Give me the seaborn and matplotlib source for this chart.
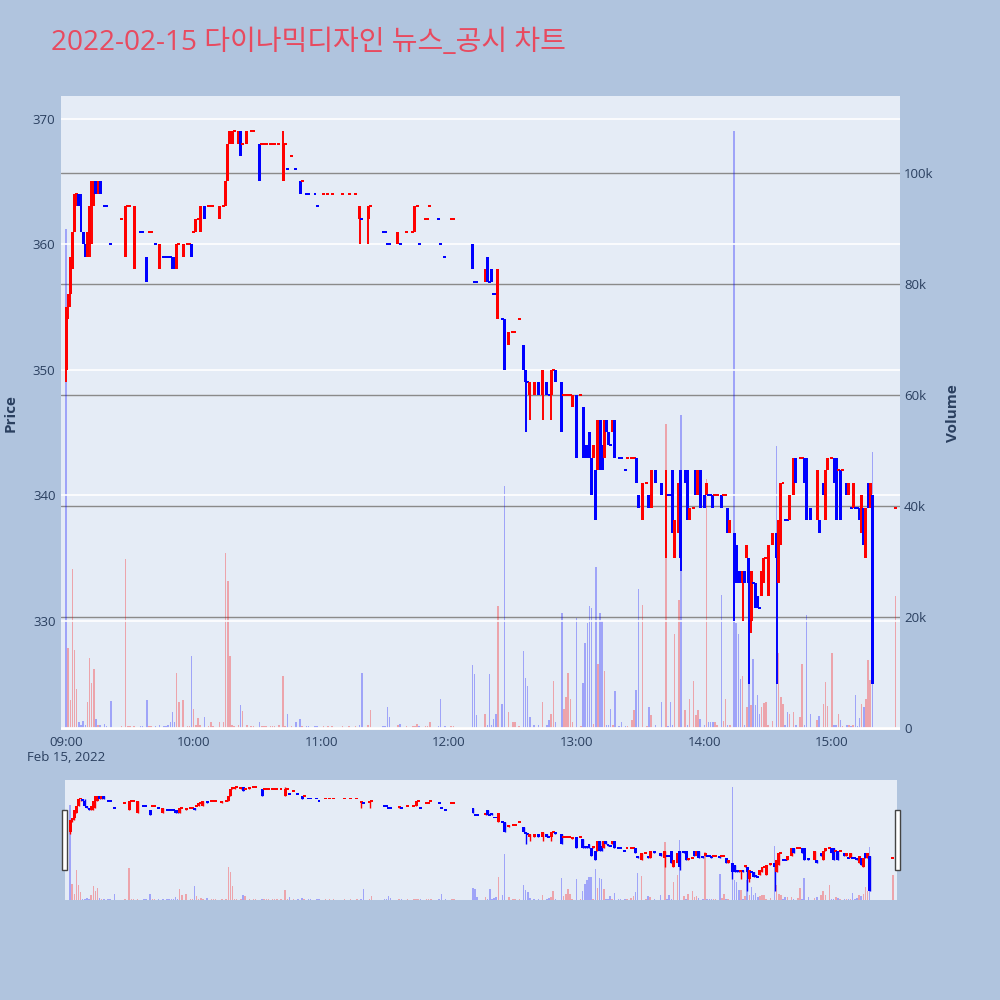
import numpy as np
import pandas as pd
import matplotlib
matplotlib.use("Agg")
import matplotlib.pyplot as plt
from matplotlib.patches import Rectangle
import seaborn as sns

# ── Chart data (1-minute candles, minutes after 09:00, volume in thousands)
TITLE = "2022-02-15 다이나믹디자인 뉴스_공시 차트"

minutes = [0, 1, 2, 3, 4, 5, 6, 7, 8, 9,
           10, 11, 12, 13, 14, 15, 16, 18, 19, 21,
           26, 28, 29, 30, 32, 35, 36, 38, 39, 40,
           42, 44, 46, 47, 48, 49, 50, 51, 52, 53,
           55, 57, 58, 59, 60, 61, 62, 63, 65, 67,
           68, 69, 72, 74, 75, 76, 77, 78, 79, 81,
           82, 83, 85, 87, 88, 91, 92, 93, 94, 96,
           97, 98, 100, 102, 103, 104, 106, 108, 110, 111,
           113, 114, 117, 118, 121, 123, 125, 130, 133, 136,
           138, 139, 142, 143, 149, 150, 151, 152, 156, 157,
           160, 163, 164, 165, 166, 169, 170, 171, 175, 176,
           178, 181, 182, 191, 192, 193, 197, 198, 199, 200,
           201, 202, 203, 205, 206, 208, 210, 211, 213, 215,
           216, 217, 218, 220, 222, 224, 226, 227, 228, 229,
           230, 233, 234, 235, 236, 237, 238, 240, 242, 243,
           244, 245, 246, 247, 248, 249, 250, 251, 252, 253,
           254, 255, 256, 257, 258, 260, 261, 263, 264, 266,
           267, 268, 269, 271, 273, 274, 275, 277, 280, 282,
           283, 284, 285, 286, 288, 289, 291, 292, 293, 295,
           296, 297, 298, 300, 301, 302, 303, 304, 305, 306,
           308, 309, 310, 311, 312, 314, 315, 316, 317, 318,
           319, 320, 321, 322, 323, 324, 325, 326, 327, 328,
           329, 330, 332, 334, 335, 336, 337, 338, 339, 340,
           342, 343, 345, 346, 347, 348, 350, 353, 354, 356,
           357, 358, 360, 361, 362, 363, 364, 365, 367, 368,
           369, 370, 371, 372, 373, 374, 375, 376, 377, 378, 379, 390]

opens = [350, 355, 356, 358, 361, 364, 364, 363, 361, 360,
         359, 360, 363, 363, 365, 364, 365, 363, 363, 360,
         362, 359, 363, 363, 358, 361, 361, 359, 361, 361,
         360, 358, 359, 359, 359, 359, 359, 359, 358, 360,
         359, 360, 360, 360, 361, 361, 362, 361, 363, 363,
         363, 363, 362, 363, 363, 365, 368, 368, 369, 368,
         369, 368, 368, 369, 369, 368, 368, 368, 368, 368,
         368, 368, 368, 365, 368, 366, 367, 366, 365, 365,
         364, 364, 364, 363, 364, 364, 364, 364, 364, 364,
         362, 362, 362, 363, 361, 361, 360, 360, 360, 360,
         361, 361, 361, 363, 360, 362, 362, 363, 362, 360,
         359, 362, 362, 360, 357, 357, 357, 359, 357, 358,
         356, 356, 354, 354, 354, 352, 353, 353, 354, 352,
         350, 349, 348, 348, 349, 348, 349, 348, 348, 350,
         350, 349, 348, 348, 348, 348, 347, 348, 348, 347,
         344, 344, 345, 343, 343, 342, 342, 346, 344, 343,
         346, 345, 344, 345, 346, 343, 343, 342, 343, 343,
         343, 343, 340, 338, 341, 340, 339, 342, 341, 339,
         340, 340, 342, 335, 337, 342, 342, 342, 338, 339,
         342, 340, 342, 340, 340, 340, 340, 340, 340, 340,
         340, 340, 340, 339, 337, 337, 336, 334, 334, 333,
         334, 335, 335, 330, 333, 333, 332, 331, 332, 333,
         335, 332, 336, 337, 333, 336, 341, 338, 338, 338,
         340, 343, 343, 343, 343, 343, 339, 338, 338, 341,
         338, 342, 343, 343, 343, 342, 342, 342, 341, 340,
         339, 339, 339, 339, 339, 337, 339, 335, 341, 339, 340, 339]

highs = [355, 356, 359, 361, 364, 364, 364, 364, 361, 360,
         361, 363, 365, 365, 365, 365, 365, 363, 363, 360,
         362, 363, 363, 363, 363, 361, 361, 359, 361, 361,
         360, 360, 359, 359, 359, 359, 359, 359, 360, 360,
         360, 360, 360, 360, 361, 362, 362, 363, 363, 363,
         363, 363, 363, 363, 365, 368, 369, 369, 369, 369,
         369, 368, 369, 369, 369, 368, 368, 368, 368, 368,
         368, 368, 368, 369, 368, 366, 367, 366, 365, 365,
         364, 364, 364, 363, 364, 364, 364, 364, 364, 364,
         363, 362, 363, 363, 361, 361, 360, 360, 361, 360,
         361, 361, 363, 363, 360, 362, 362, 363, 362, 360,
         359, 362, 362, 360, 357, 357, 358, 359, 357, 358,
         356, 356, 358, 354, 354, 353, 353, 353, 354, 352,
         350, 349, 349, 349, 349, 350, 349, 348, 350, 350,
         350, 349, 348, 348, 348, 348, 348, 348, 348, 347,
         344, 344, 345, 343, 344, 342, 346, 346, 344, 346,
         346, 345, 344, 346, 346, 343, 343, 342, 343, 343,
         343, 343, 340, 341, 341, 340, 342, 342, 341, 342,
         340, 340, 342, 338, 341, 342, 342, 342, 339, 339,
         342, 342, 342, 340, 341, 340, 340, 340, 340, 340,
         340, 340, 340, 339, 338, 337, 336, 334, 334, 334,
         334, 336, 335, 334, 333, 333, 332, 331, 334, 335,
         335, 336, 337, 337, 338, 341, 341, 338, 338, 340,
         343, 343, 343, 343, 343, 343, 339, 342, 338, 341,
         342, 343, 343, 343, 343, 342, 342, 342, 341, 341,
         339, 341, 339, 339, 339, 340, 339, 339, 341, 341, 340, 339]

lows = [349, 354, 355, 358, 361, 363, 363, 361, 360, 359,
        359, 359, 360, 363, 364, 364, 364, 363, 363, 360,
        362, 359, 363, 363, 358, 361, 361, 357, 361, 361,
        360, 358, 359, 359, 359, 359, 358, 358, 358, 360,
        359, 360, 360, 359, 361, 361, 362, 361, 362, 363,
        363, 363, 362, 363, 363, 365, 368, 368, 369, 368,
        367, 368, 368, 369, 369, 365, 368, 368, 368, 368,
        368, 368, 368, 365, 368, 366, 367, 366, 364, 365,
        364, 364, 364, 363, 364, 364, 364, 364, 364, 364,
        360, 362, 360, 363, 361, 361, 360, 360, 360, 360,
        361, 361, 361, 363, 360, 362, 362, 363, 362, 360,
        359, 362, 362, 358, 357, 357, 357, 357, 357, 357,
        356, 356, 354, 354, 350, 352, 353, 353, 354, 350,
        345, 349, 346, 348, 348, 346, 348, 348, 346, 350,
        349, 345, 348, 348, 348, 348, 347, 343, 348, 343,
        343, 343, 343, 340, 343, 338, 342, 342, 342, 343,
        345, 344, 344, 345, 343, 343, 343, 342, 343, 343,
        343, 341, 339, 338, 341, 339, 339, 341, 340, 335,
        340, 340, 337, 335, 337, 334, 341, 338, 338, 339,
        340, 340, 339, 339, 340, 340, 340, 339, 340, 340,
        339, 340, 340, 337, 337, 330, 333, 333, 333, 330,
        333, 335, 325, 329, 333, 331, 331, 331, 332, 333,
        335, 332, 336, 325, 333, 336, 341, 338, 338, 338,
        340, 341, 343, 343, 341, 338, 338, 338, 337, 340,
        338, 342, 343, 341, 338, 342, 338, 342, 340, 340,
        339, 339, 339, 339, 338, 337, 336, 335, 339, 339, 325, 339]

closes = [355, 356, 359, 361, 364, 364, 363, 361, 360, 359,
          361, 363, 365, 365, 364, 365, 364, 363, 363, 360,
          362, 363, 363, 363, 363, 361, 361, 357, 361, 361,
          360, 360, 359, 359, 359, 359, 358, 358, 360, 360,
          360, 360, 360, 359, 361, 362, 362, 363, 362, 363,
          363, 363, 363, 363, 365, 368, 369, 369, 369, 369,
          367, 368, 369, 369, 369, 365, 368, 368, 368, 368,
          368, 368, 368, 368, 368, 366, 367, 366, 364, 365,
          364, 364, 364, 363, 364, 364, 364, 364, 364, 364,
          363, 362, 363, 363, 361, 361, 360, 360, 361, 360,
          361, 361, 363, 363, 360, 362, 362, 363, 362, 360,
          359, 362, 362, 358, 357, 357, 358, 357, 357, 357,
          356, 356, 358, 354, 350, 353, 353, 353, 354, 350,
          349, 349, 349, 349, 348, 350, 348, 348, 350, 350,
          349, 345, 348, 348, 348, 348, 348, 343, 348, 343,
          343, 343, 343, 340, 344, 338, 346, 342, 342, 346,
          345, 344, 344, 346, 343, 343, 343, 342, 343, 343,
          343, 341, 339, 341, 341, 339, 342, 341, 340, 342,
          340, 340, 337, 338, 341, 335, 341, 338, 339, 339,
          340, 342, 339, 339, 341, 340, 340, 339, 340, 340,
          339, 340, 340, 337, 338, 333, 333, 333, 333, 334,
          333, 336, 333, 334, 333, 331, 331, 331, 334, 335,
          335, 336, 337, 335, 338, 341, 341, 338, 338, 340,
          343, 341, 343, 343, 341, 338, 338, 342, 337, 340,
          342, 343, 343, 341, 338, 342, 338, 342, 340, 341,
          339, 341, 339, 339, 338, 340, 336, 339, 339, 341, 325, 339]

volumes_k = [90, 14.4, 5, 28.6, 14, 7, 1, 0.5, 1.3, 0.5,
             4.7, 12.6, 8.1, 10.6, 1.6, 0.5, 0.5, 0.8, 0.3, 4.9,
             0.3, 30.4, 0.3, 0.3, 0.3, 0.3, 0.3, 5, 0.3, 0.3,
             0.3, 0.5, 0.3, 0.3, 0.5, 1, 2.8, 1, 10, 4.7,
             5, 0.3, 0.3, 13, 3.4, 0.5, 1.8, 0.5, 2, 0.3,
             1, 0.3, 1, 1, 31.5, 26.5, 13, 0.5, 0.3, 0.5,
             4.1, 3, 0.5, 0.3, 0.3, 1, 0.3, 0.3, 0.3, 0.3,
             0.3, 0.3, 0.5, 9.3, 0.3, 2.5, 0.3, 1, 1.6, 0.3,
             0.3, 0.3, 0.3, 0.3, 0.3, 0.3, 0.3, 0.3, 0.3, 0.3,
             0.5, 10, 0.5, 3.2, 0.3, 0.3, 3.8, 2, 0.6, 0.7,
             0.3, 0.3, 0.3, 0.8, 0.3, 0.3, 0.3, 1, 0.3, 5.2,
             0.3, 0.3, 0.3, 11.3, 9.7, 2.3, 2.6, 0.5, 9.7, 0.5,
             1.7, 2.6, 21.9, 4.3, 43.6, 2.9, 1, 1, 0.3, 13.9,
             9, 7.6, 2, 0.5, 0.5, 4.7, 0.5, 1.5, 2.6, 8.5,
             1, 20.8, 3.4, 5.6, 10, 5.3, 1, 19.8, 0.3, 8.2,
             15.3, 19, 21.9, 21.7, 0.8, 29, 11.5, 20.8, 19.3, 10.2,
             0.5, 0.5, 3.4, 0.5, 6.7, 0.3, 1, 0.3, 0.3, 1.5,
             3.2, 6.8, 25, 22.2, 0.3, 3.8, 2.4, 0.5, 4.7, 54.8,
             0.3, 4.7, 0.5, 17, 23, 56.4, 3.2, 0.5, 5.3, 8.5,
             2.3, 3.2, 1.7, 0.5, 44.9, 1, 1, 1, 1, 0.5,
             24, 1.3, 5.3, 0.5, 0.5, 107.6, 18.9, 17, 8.8, 9.4,
             0.5, 3.8, 19, 4.1, 12.4, 4.1, 6, 2.6, 3.8, 4.5,
             4.6, 0.5, 1.2, 50.8, 13.6, 5.6, 4.4, 0.5, 2.9, 2.6,
             2.8, 0.5, 1.9, 11.5, 0.5, 20.4, 2.6, 1.4, 2.2, 4.3,
             8.3, 4, 13.6, 0.5, 0.5, 2.6, 1.4, 0.3, 0.5, 0.5,
             0.3, 0.5, 6, 0.3, 1.8, 4.3, 3.8, 5.3, 12.3, 8.6, 49.8, 23.8]

hour_ticks = [0, 60, 120, 180, 240, 300, 360]
hour_labels = ["09:00\nFeb 15, 2022", "10:00", "11:00", "12:00", "13:00", "14:00", "15:00"]
price_ticks = [330, 340, 350, 360, 370]
vol_ticks = [0, 20000, 40000, 60000, 80000, 100000]
vol_labels = ["0", "20k", "40k", "60k", "80k", "100k"]

# ── Styling
PAGE_BG = "#B0C4DE"
PLOT_BG = "#E5ECF6"
TEXT = "#2a3f5f"
UP, DOWN = "#ff0000", "#0000ff"
X_RANGE = (-2.4, 392)
P_RANGE = (321.3, 371.8)
V_RANGE = (-360, 113900)

sns.set_theme(style="white")
plt.rcParams["font.family"] = ["Open Sans", "Noto Sans CJK KR", "DejaVu Sans"]

# ── Build frame, direction by body then by change vs previous close
df = pd.DataFrame({"minute": minutes, "open": opens, "high": highs,
                   "low": lows, "close": closes,
                   "volume": np.array(volumes_k) * 1000})
step = np.sign(df["close"] - df["close"].shift(1)).replace(0, np.nan).ffill().fillna(-1)
body = np.sign(df["close"] - df["open"])
df["up"] = np.where(body != 0, body > 0, step > 0)
df["vol_dir"] = np.where(step > 0, "up", "down")


def draw_panel(ax_v, ax_p, wick_lw, min_body):
    sns.barplot(data=df, x="minute", y="volume", hue="vol_dir",
                palette={"up": UP, "down": DOWN}, native_scale=True,
                dodge=False, width=0.7, saturation=1, alpha=0.3,
                errorbar=None, legend=False, linewidth=0, ax=ax_v)
    colors = np.where(df["up"], UP, DOWN)
    ax_p.vlines(df["minute"], df["low"], df["high"], colors=colors,
                linewidth=wick_lw, zorder=3)
    size = (df["close"] - df["open"]).abs()
    h = np.maximum(size, min_body)
    bottom = np.minimum(df["open"], df["close"]) - (h - size) / 2
    ax_p.bar(df["minute"], h, bottom=bottom, width=1.4, color=colors,
             linewidth=0, zorder=4)
    ax_v.set_xlim(*X_RANGE)
    ax_v.set_ylim(*V_RANGE)
    ax_p.set_ylim(*P_RANGE)
    ax_v.set_facecolor(PLOT_BG)
    ax_p.patch.set_visible(False)
    for a in (ax_v, ax_p):
        for s in a.spines.values():
            s.set_visible(False)
        a.set_xlabel("")
        a.set_ylabel("")


fig = plt.figure(figsize=(10, 10), dpi=100, facecolor=PAGE_BG)

# ── Main panel
ax_v = fig.add_axes([0.061, 0.27, 0.839, 0.634])
ax_p = ax_v.twinx()
draw_panel(ax_v, ax_p, wick_lw=1.4, min_body=0.16)

ax_v.set_yticks(vol_ticks, vol_labels)
ax_v.yaxis.grid(True, color="#8a8a8a", linewidth=1.0)
ax_v.xaxis.grid(False)
ax_v.axhline(0, color="white", linewidth=2, zorder=1)
ax_v.set_xticks(hour_ticks, hour_labels)
ax_v.tick_params(axis="x", length=0, pad=4, labelsize=9.5, labelcolor=TEXT)
ax_v.tick_params(axis="y", length=0, pad=3, labelsize=9.5, labelcolor=TEXT,
                 left=False, labelleft=False, right=False, labelright=True)

ax_p.set_yticks(price_ticks)
ax_p.yaxis.grid(True, color="white", linewidth=1.2)
ax_p.set_axisbelow(True)
ax_p.tick_params(axis="y", length=0, pad=4, labelsize=9.5, labelcolor=TEXT,
                 left=False, labelleft=True, right=False, labelright=False)

ax_p.set_ylabel("Price", fontsize=11, fontweight="bold", color=TEXT)
ax_p.yaxis.set_label_position("left")
ax_p.yaxis.set_label_coords(-0.052, 0.5)
ax_v.set_ylabel("Volume", fontsize=11, fontweight="bold", color=TEXT)
ax_v.yaxis.set_label_position("right")
ax_v.yaxis.set_label_coords(1.055, 0.5)

# ── Range slider preview
ax_sv = fig.add_axes([0.065, 0.10, 0.832, 0.12])
ax_sp = ax_sv.twinx()
draw_panel(ax_sv, ax_sp, wick_lw=1.0, min_body=0.8)
for a in (ax_sv, ax_sp):
    a.set_xticks([])
    a.set_yticks([])
    a.grid(False)

for x0 in (0.062, 0.895):
    fig.add_artist(Rectangle((x0, 0.13), 0.005, 0.06, transform=fig.transFigure,
                             facecolor="white", edgecolor="#444444", linewidth=1))

fig.text(0.051, 0.957, TITLE, fontsize=20.2, color="#e84a5f", ha="left", va="center")

fig.savefig("out.png", dpi=100, facecolor=PAGE_BG)
